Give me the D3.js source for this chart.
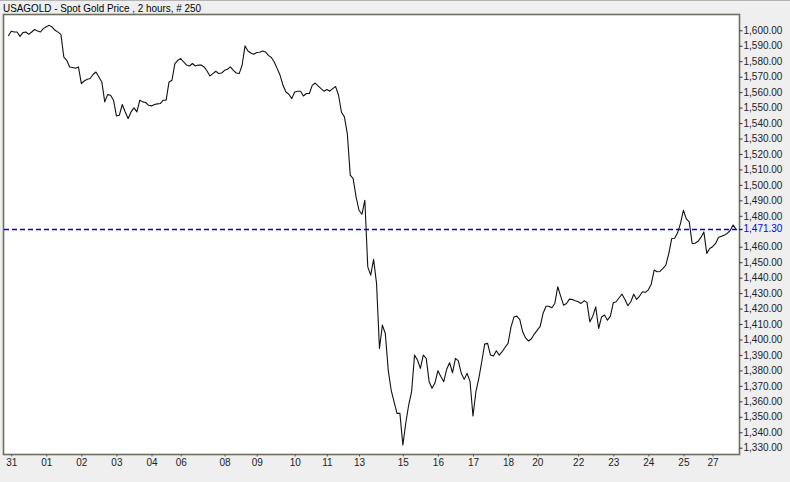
<!DOCTYPE html>
<html>
<head>
<meta charset="utf-8">
<script src="https://cdn.jsdelivr.net/npm/d3@7/dist/d3.min.js"></script>
<style>
  html, body { margin: 0; padding: 0; background: #efefef; }
  svg { display: block; }
  text { font-family: "Liberation Sans", Arial, sans-serif; }
</style>
</head>
<body>
<svg id="chart" width="790" height="482"></svg>
<script>
// ---- data (2-hour bars, index 0..249) ----
const title = "USAGOLD - Spot Gold Price , 2 hours, # 250";

const prices = [
  1596.3, 1599.4, 1598.9, 1598.9, 1596.1, 1598.5, 1598.9, 1597.4, 1598.9, 1600.5,
  1599.5, 1598.9, 1601.1, 1602.3, 1603.2, 1602.1, 1600.0, 1598.8, 1597.4, 1582.7,
  1580.6, 1576.3, 1575.9, 1575.5, 1576.3, 1565.5, 1567.2, 1568.3, 1568.8, 1571.4,
  1573.0, 1569.8, 1566.6, 1553.7, 1558.4, 1558.0, 1554.8, 1544.6, 1545.1, 1552.0,
  1547.2, 1542.9, 1547.2, 1549.8, 1547.2, 1554.8, 1553.7, 1553.3, 1551.5, 1551.1,
  1552.0, 1552.4, 1552.6, 1554.8, 1554.8, 1566.6, 1567.7, 1578.5, 1580.6, 1581.7,
  1579.5, 1577.5, 1576.9, 1578.5, 1576.9, 1577.6, 1577.5, 1576.3, 1573.7, 1570.5,
  1572.0, 1573.5, 1572.0, 1572.4, 1574.1, 1574.8, 1576.3, 1574.1, 1572.4, 1572.0,
  1577.4, 1589.9, 1586.6, 1585.3, 1584.5, 1585.6, 1585.8, 1586.6, 1586.0, 1583.8,
  1582.4, 1579.5, 1575.2, 1570.9, 1564.4, 1560.1, 1558.6, 1555.8, 1560.1, 1560.6,
  1560.6, 1557.5, 1559.1, 1559.1, 1564.4, 1565.9, 1564.0, 1562.3, 1560.6, 1561.7,
  1560.6, 1562.3, 1563.6, 1558.0, 1547.0, 1544.0, 1533.2, 1506.3, 1504.1, 1492.2,
  1483.6, 1481.0, 1490.1, 1447.0, 1441.6, 1451.8, 1436.3, 1394.2, 1409.3, 1403.9,
  1380.2, 1367.3, 1359.7, 1352.2, 1352.2, 1331.7, 1345.8, 1357.6, 1366.2, 1389.9,
  1386.7, 1381.3, 1389.9, 1387.8, 1372.7, 1368.4, 1372.0, 1379.8, 1376.0, 1372.7,
  1380.7, 1385.0, 1378.5, 1387.8, 1386.2, 1378.1, 1374.2, 1378.1, 1372.7, 1350.5,
  1366.2, 1374.9, 1385.6, 1397.0, 1397.5, 1389.9, 1389.3, 1392.7, 1389.9, 1392.1,
  1395.0, 1397.5, 1408.0, 1414.5, 1415.1, 1413.0, 1405.0, 1401.0, 1399.0, 1400.5,
  1403.5, 1406.1, 1408.5, 1417.0, 1421.5, 1421.5, 1420.5, 1423.3, 1434.1, 1428.0,
  1422.2, 1423.3, 1426.1, 1425.9, 1425.0, 1424.4, 1423.3, 1425.0, 1424.0, 1411.4,
  1415.1, 1421.1, 1407.1, 1414.6, 1415.8, 1412.5, 1415.0, 1423.7, 1424.4, 1427.0,
  1429.3, 1425.9, 1421.8, 1424.4, 1429.3, 1425.9, 1428.1, 1430.9, 1430.5, 1432.1,
  1435.8, 1444.9, 1443.8, 1444.0, 1446.0, 1448.1, 1455.6, 1465.3, 1465.5, 1469.0,
  1475.0, 1483.6, 1478.0, 1476.1, 1462.1, 1462.3, 1463.5, 1466.0, 1469.6, 1455.7,
  1458.9, 1460.0, 1462.1, 1466.0, 1466.8, 1467.5, 1468.6, 1470.5, 1474.0, 1471.3
];

const lastPrice = 1471.30;

const dayLabels = ["31","01","02","03","04","06","08","09","10","11","13",
                   "15","16","17","18","20","22","23","24","25","27"];
const dayBarIndex = [1, 13, 25, 37, 49, 59, 74, 85, 98, 109, 120,
                     135, 147, 159, 171, 181, 195, 207, 219, 231, 241];

const yTickValues = d3.range(1330, 1601, 10);

// ---- layout ----
const svg = d3.select("#chart");
const frame = { left: 3, top: 14, right: 739, bottom: 454 };

const x = d3.scaleLinear().domain([0, prices.length - 1]).range([8.3, 736]);
const y = d3.scaleLinear().domain([1330, 1600]).range([447.7, 30.3]);

// background
svg.append("rect").attr("width", 790).attr("height", 482).attr("fill", "#efefef");
svg.append("line").attr("x1", 0).attr("x2", 790).attr("y1", 0.5).attr("y2", 0.5)
  .attr("stroke", "#b4b4b4");

// title
svg.append("text").attr("x", 3).attr("y", 11.5)
  .attr("font-size", 10.8).attr("fill", "#000")
  .attr("textLength", 198).attr("lengthAdjust", "spacingAndGlyphs")
  .text(title);

// plot area
svg.append("rect")
  .attr("x", frame.left + 0.5).attr("y", frame.top + 0.5)
  .attr("width", frame.right - frame.left).attr("height", frame.bottom - frame.top)
  .attr("fill", "#ffffff").attr("stroke", "#6f6f60").attr("stroke-width", 1.6);

// y axis (right) - the tick that would collide with the last-price label is hidden
const lastY = y(lastPrice);
const yAxis = d3.axisRight(y)
  .tickValues(yTickValues.filter(t => Math.abs(y(t) - lastY) > 8))
  .tickFormat(d3.format(",.2f")).tickSize(3).tickPadding(1);
const gy = svg.append("g").attr("transform", `translate(${frame.right + 0.5},0)`).call(yAxis);
gy.select(".domain").remove();
gy.selectAll(".tick line").attr("stroke", "#333");
gy.selectAll(".tick text").attr("font-size", 10).attr("fill", "#222")
  .attr("font-family", "'Liberation Sans', Arial, sans-serif");

// x axis (bottom)
const xAxis = d3.axisBottom(x).tickValues(dayBarIndex)
  .tickFormat((d, i) => dayLabels[i]).tickSize(2).tickPadding(2);
const gx = svg.append("g").attr("transform", `translate(0,${frame.bottom + 0.5})`).call(xAxis);
gx.select(".domain").remove();
gx.selectAll(".tick line").attr("stroke", "#555");
gx.selectAll(".tick text").attr("font-size", 10).attr("fill", "#222")
  .attr("font-family", "'Liberation Sans', Arial, sans-serif");

// last price dashed line
const ly = Math.round(lastY) + 0.5;
svg.append("line")
  .attr("x1", frame.left + 1).attr("x2", frame.right)
  .attr("y1", ly).attr("y2", ly)
  .attr("stroke", "#0000ff").attr("stroke-width", 1.3).attr("stroke-dasharray", "5,3");

// price line
const line = d3.line().x((d, i) => x(i)).y(d => y(d));
svg.append("path").datum(prices)
  .attr("d", line).attr("fill", "none")
  .attr("stroke", "#111").attr("stroke-width", 1.1).attr("stroke-linejoin", "round");

// last price tick + label
svg.append("line")
  .attr("x1", frame.right).attr("x2", frame.right + 3.5)
  .attr("y1", ly).attr("y2", ly)
  .attr("stroke", "#0000ff").attr("stroke-width", 1.3);
svg.append("text").attr("x", frame.right + 4.5).attr("y", lastY)
  .attr("dy", "0.32em").attr("font-size", 10).attr("fill", "#0000ff")
  .text(d3.format(",.2f")(lastPrice));
</script>
</body>
</html>
